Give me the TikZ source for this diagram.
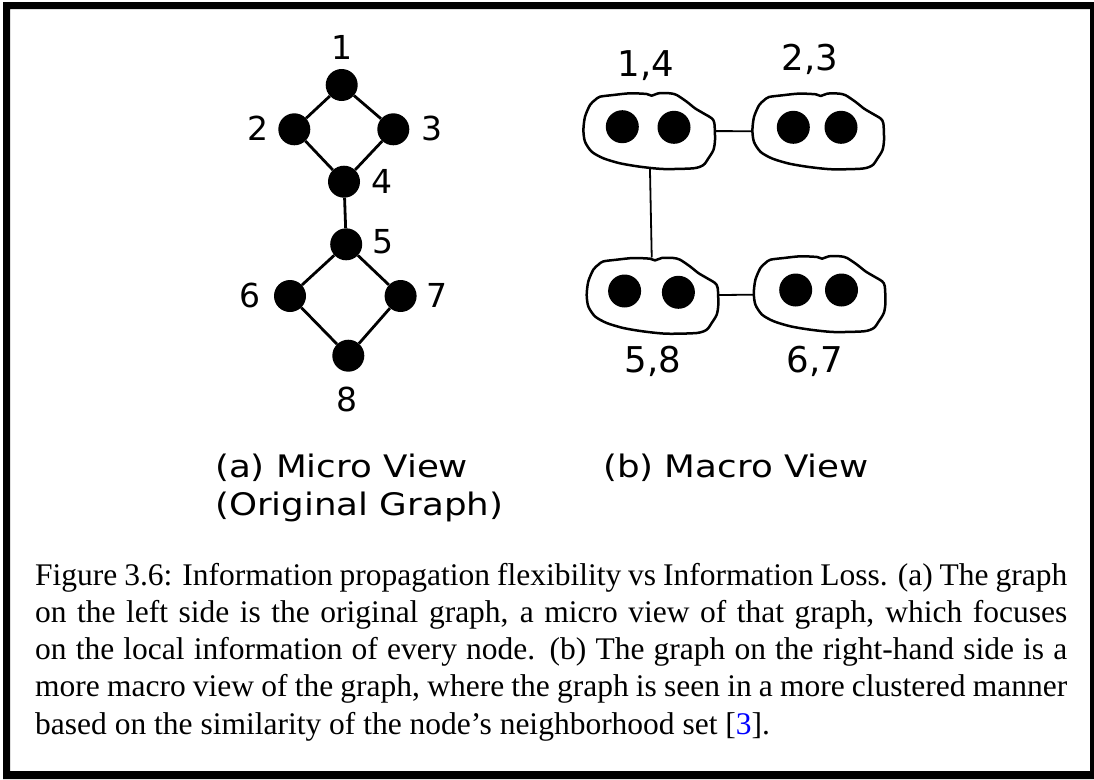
\documentclass[tikz,border=0pt]{standalone}
\usepackage{fontspec}
\setmainfont{Liberation Serif}
\newfontfamily\dejavu{DejaVu Sans}
\usetikzlibrary{calc}
\newcommand{\blobshape}{plot[smooth cycle, tension=0.45] coordinates {(-53.2,-27) (-48.2,-30.3) (-34.8,-32) (-18.2,-33.7) (-1.5,-33) (3.5,-31.3) (10.2,-33.7) (21.8,-33.7) (28.5,-32) (38.5,-25.3) (46.8,-18.7) (55.2,-13.7) (63.5,-8.7) (66.2,-3.7) (66.8,13) (65.2,23) (60.2,31.3) (55.2,38) (45.2,41.3) (15.2,42) (-8.2,39.7) (-28.2,36.3) (-44.8,31.3) (-56.5,24.7) (-63.2,14.7) (-64.8,3) (-63.2,-10.3) (-58.2,-22)}}
\begin{document}
\begin{tikzpicture}[x=1pt,y=-1pt,
  vtx/.style={circle, fill=black, inner sep=0pt, minimum size=32pt},
  blobdot/.style={circle, fill=black, inner sep=0pt, minimum size=33pt},
  gedge/.style={line width=2.8pt},
  medge/.style={line width=1.8pt},
  blobline/.style={line width=2.5pt, line join=round},
  blobbox/.style={rectangle, draw=none, inner sep=0pt, minimum width=131pt, minimum height=76pt},
  numlbl/.style={font=\dejavu\fontsize{33}{40}\selectfont, inner sep=0pt, anchor=base},
  grplbl/.style={font=\dejavu\fontsize{35.5}{42}\selectfont, inner sep=0pt, anchor=base},
  sublbl/.style={font=\dejavu\fontsize{31}{38}\selectfont, inner sep=0pt, anchor=base west},
]
\useasboundingbox (0,0) rectangle (1094,779);
% frame
\fill[black, even odd rule] (3,2) rectangle (1094,779) (10,9) rectangle (1090,771);

% ---- micro view ----
\node[vtx] (n1) at (341.7,85) {};
\node[vtx] (n2) at (294.3,129.3) {};
\node[vtx] (n3) at (393.3,129.3) {};
\node[vtx] (n4) at (344,181.7) {};
\node[vtx] (n5) at (346.2,244.3) {};
\node[vtx] (n6) at (290,296) {};
\node[vtx] (n7) at (400.6,296) {};
\node[vtx] (n8) at (348.3,355.7) {};
\draw[gedge] (n1) -- (n2);
\draw[gedge] (n1) -- (n3);
\draw[gedge] (n2) -- (n4);
\draw[gedge] (n3) -- (n4);
\draw[gedge] (n4) -- (n5);
\draw[gedge] (n5) -- (n6);
\draw[gedge] (n5) -- (n7);
\draw[gedge] (n6) -- (n8);
\draw[gedge] (n7) -- (n8);
\node[numlbl] (l1) at (341.7,59) {1};
\node[numlbl] (l2) at (257.5,140) {2};
\node[numlbl] (l3) at (431.7,140) {3};
\node[numlbl] (l4) at (381.7,193) {4};
\node[numlbl] (l5) at (383,253) {5};
\node[numlbl] (l6) at (249.7,307) {6};
\node[numlbl] (l7) at (436.7,307) {7};
\node[numlbl] (l8) at (347,411) {8};

% ---- macro view ----
\node[blobbox] (b14) at (649.2,131) {};
\node[blobbox] (b23) at (818.2,131.3) {};
\node[blobbox] (b58) at (652.5,295.7) {};
\node[blobbox] (b67) at (819.6,294) {};
\foreach \b in {b14,b23,b58,b67}{
  \begin{scope}[shift={($(\b.center)+(-1,-4)$)}]
    \draw[blobline, fill=white] \blobshape;
  \end{scope}
}
\node[blobdot] (d14a) at (622.3,126.7) {};
\node[blobdot] (d14b) at (674,127.3) {};
\node[blobdot] (d23a) at (793.3,127.3) {};
\node[blobdot] (d23b) at (841,127.3) {};
\node[blobdot] (d58a) at (624.6,291) {};
\node[blobdot] (d58b) at (678.4,292.3) {};
\node[blobdot] (d67a) at (795.7,290) {};
\node[blobdot] (d67b) at (841.5,290) {};
\draw[medge] (b14) -- (b23);
\draw[medge] (b14) -- (b58);
\draw[medge] (b58) -- (b67);
\node[grplbl] (g14) at (646,76.7) {1,4};
\node[grplbl] (g23) at (810,70.7) {2,3};
\node[grplbl] (g58) at (653,372.7) {5,8};
\node[grplbl] (g67) at (815,372.7) {6,7};

% ---- sub-captions ----
\node[sublbl] (suba1) at (215,477) {\scalebox{1.15}[1]{(a) Micro View}};
\node[sublbl] (suba2) at (215,515) {\scalebox{1.15}[1]{(Original Graph)}};
\node[sublbl] (subb) at (603,477) {\scalebox{1.15}[1]{(b) Macro View}};

% ---- caption ----
\node[anchor=base west, inner sep=0pt] (cap) at (35,585) {\parbox[t]{1032pt}{\fontsize{31.5}{37.3}\selectfont
Figure 3.6: Information propagation flexibility vs Information Loss. (a) The graph\linebreak
on the left side is the original graph, a micro view of that graph, which focuses\linebreak
on the local information of every node. (b) The graph on the right-hand side is a\linebreak
more macro view of the graph, where the graph is seen in a more clustered manner\linebreak
based on the similarity of the node’s neighborhood set [\textcolor{blue}{3}].}};
\end{tikzpicture}
\end{document}
